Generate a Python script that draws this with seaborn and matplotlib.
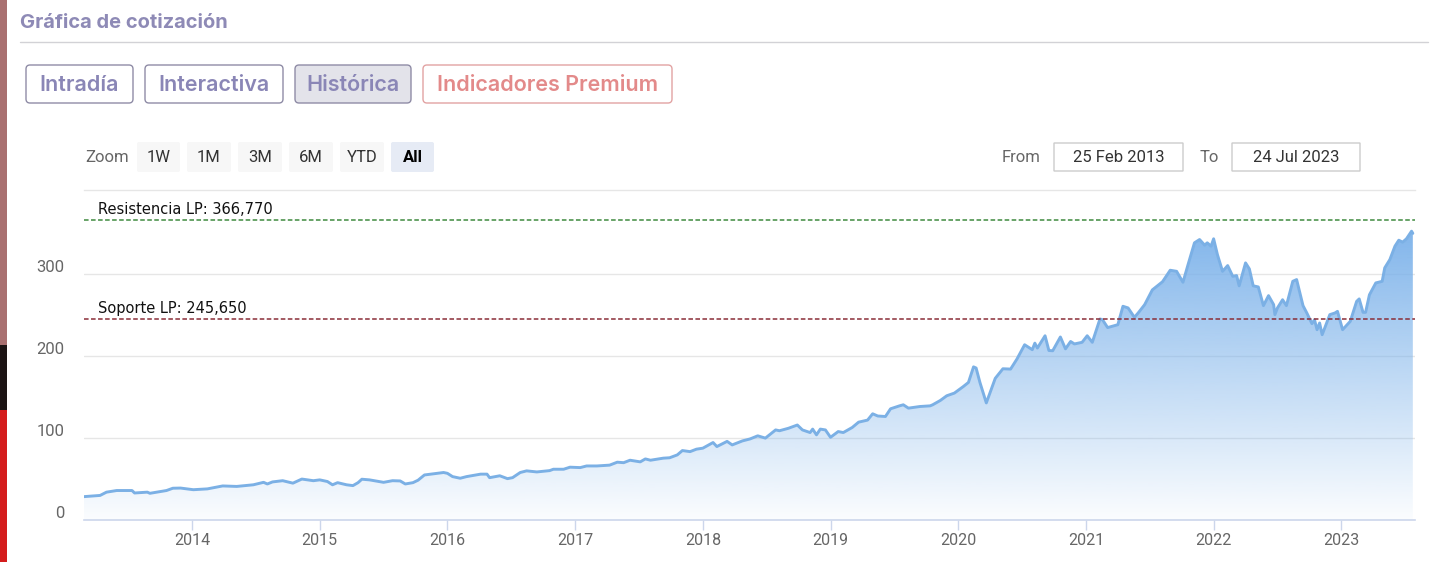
import numpy as np
import pandas as pd
import matplotlib
matplotlib.use("Agg")
import matplotlib.pyplot as plt
import seaborn as sns
from matplotlib.patches import FancyBboxPatch, Rectangle, PathPatch
from matplotlib.transforms import ScaledTranslation, blended_transform_factory

# ---------------- data ----------------
years = [2013.15, 2013.28, 2013.33, 2013.41, 2013.53, 2013.55, 2013.65, 2013.67, 2013.80, 2013.85,
         2013.91, 2014.01, 2014.12, 2014.24, 2014.35, 2014.48, 2014.56, 2014.59, 2014.63, 2014.71,
         2014.79, 2014.86, 2014.95, 2015.00, 2015.06, 2015.10, 2015.14, 2015.21, 2015.26, 2015.30,
         2015.33, 2015.39, 2015.50, 2015.57, 2015.63, 2015.67, 2015.73, 2015.77, 2015.82, 2015.97,
         2016.00, 2016.04, 2016.10, 2016.15, 2016.26, 2016.31, 2016.33, 2016.41, 2016.47, 2016.51,
         2016.57, 2016.62, 2016.70, 2016.80, 2016.83, 2016.91, 2016.96, 2017.04, 2017.09, 2017.17,
         2017.27, 2017.33, 2017.38, 2017.43, 2017.51, 2017.55, 2017.59, 2017.69, 2017.74, 2017.80,
         2017.84, 2017.90, 2017.95, 2018.00, 2018.08, 2018.11, 2018.19, 2018.23, 2018.31, 2018.37,
         2018.43, 2018.49, 2018.57, 2018.60, 2018.67, 2018.74, 2018.78, 2018.84, 2018.86, 2018.89,
         2018.92, 2018.96, 2019.00, 2019.06, 2019.10, 2019.17, 2019.22, 2019.29, 2019.33, 2019.37,
         2019.43, 2019.47, 2019.54, 2019.57, 2019.61, 2019.70, 2019.78, 2019.80, 2019.86, 2019.91,
         2019.97, 2020.04, 2020.08, 2020.12, 2020.14, 2020.17, 2020.22, 2020.29, 2020.35, 2020.41,
         2020.46, 2020.52, 2020.58, 2020.60, 2020.62, 2020.68, 2020.71, 2020.74, 2020.80, 2020.84,
         2020.88, 2020.91, 2020.97, 2021.01, 2021.05, 2021.11, 2021.13, 2021.17, 2021.25, 2021.29,
         2021.33, 2021.38, 2021.41, 2021.46, 2021.52, 2021.60, 2021.66, 2021.71, 2021.76, 2021.80,
         2021.85, 2021.89, 2021.93, 2021.95, 2021.98, 2022.00, 2022.03, 2022.07, 2022.11, 2022.15,
         2022.18, 2022.20, 2022.25, 2022.28, 2022.31, 2022.35, 2022.39, 2022.43, 2022.47, 2022.48,
         2022.50, 2022.54, 2022.57, 2022.62, 2022.65, 2022.70, 2022.73, 2022.77, 2022.79, 2022.81,
         2022.83, 2022.85, 2022.91, 2022.95, 2022.97, 2023.01, 2023.07, 2023.12, 2023.14, 2023.17,
         2023.19, 2023.22, 2023.27, 2023.32, 2023.34, 2023.38, 2023.42, 2023.45, 2023.48, 2023.51,
         2023.55, 2023.56]

prices = [28.5, 30, 34, 36, 36, 33, 34, 32.6, 36, 38.8,
          39, 37, 38, 41.6, 41, 43, 46, 44, 46.5, 48,
          45, 50, 48, 49, 47, 43, 45.6, 43, 42, 45.6,
          49.8, 49, 46, 48, 47.7, 44, 45.6, 48.6, 55, 58,
          57, 53, 51, 53, 56, 56, 51.7, 54, 50.5, 51.7,
          58, 60, 58.7, 60.3, 62, 62, 64.5, 64, 66, 66,
          67, 70.6, 70, 73, 71, 74.6, 73, 75.5, 76, 79.5,
          84.8, 83.5, 86.5, 87.7, 94.6, 89.7, 96, 91.7, 96.6, 99,
          102.8, 100, 110, 109, 112, 116, 110, 106.8, 111, 104,
          111, 110, 101, 108, 106.8, 113, 119.5, 122, 129.7, 127,
          126.4, 135.8, 139.4, 140.7, 136.6, 138.6, 139.4, 140.7, 146, 151.7,
          155, 163, 168, 187, 185.6, 168, 143, 173, 184.7, 184.3,
          196.6, 214, 208, 216, 210, 225, 207, 206.7, 223.5, 209,
          218, 215, 217, 225, 217, 245.5, 244.6, 235, 238.5, 261,
          259, 247.5, 253, 263, 281, 291, 305, 303.7, 290.3, 312,
          338.5, 342.5, 335.6, 338.5, 334.4, 343.4, 324, 303.7, 310.7, 297.6,
          298.5, 286, 314, 306.6, 286, 284.6, 261.8, 274, 263, 250.8,
          259, 269, 261.8, 291.5, 293.6, 261.8, 252.8, 239.8, 244.6, 232.4,
          240.6, 226.3, 250.8, 252.8, 254.8, 232.4, 242.6, 267, 270, 253.6,
          253.6, 275, 289.5, 291.5, 307.9, 318, 334.4, 341.7, 339.3, 343.4,
          352.7, 350]

assert len(years) == len(prices), (len(years), len(prices))

resistance_value = 366.77
support_value = 245.65
resistance_label = "Resistencia LP: 366,770"
support_label = "Soporte LP: 245,650"
y_ticks = [0, 100, 200, 300]
x_ticks = list(range(2014, 2024))
x_tick_labels = [str(y) for y in x_ticks]
title = "Gráfica de cotización"
tabs = ["Intradía", "Interactiva", "Histórica", "Indicadores Premium"]
range_buttons = ["1W", "1M", "3M", "6M", "YTD", "All"]
date_from = "25 Feb 2013"
date_to = "24 Jul 2023"
x_start, x_end = 2013.154, 2023.577
y_top = 403

# ---------------- style ----------------
sns.set_theme(style="white")
plt.rcParams['font.family'] = ['DejaVu Sans']
COND = ['Liberation Sans Narrow', 'Roboto', 'DejaVu Sans']
HEAD = ['Inter', 'DejaVu Sans']

W, H = 1439, 562
fig = plt.figure(figsize=(W / 100, H / 100), dpi=100)
fig.patch.set_facecolor('white')

# overlay in pixel coordinates for page decorations
ui = fig.add_axes([0, 0, 1, 1], zorder=0)
ui.set_xlim(0, W)
ui.set_ylim(H, 0)
ui.axis('off')

# left photo strip
ui.add_patch(Rectangle((0, 0), 7, 345, color='#a97070', lw=0))
ui.add_patch(Rectangle((0, 345), 7, 65, color='#1c1414', lw=0))
ui.add_patch(Rectangle((0, 410), 7, 152, color='#d41c1c', lw=0))

ui.text(20, 23, title, fontsize=14.5, fontweight='bold', color='#8e8ab6',
        va='center', ha='left', family=HEAD)
ui.plot([20, 1428], [42, 42], color='#d2d2d6', lw=1)

def box(x0, y0, x1, y1, fc, ec, r=4, lw=1.0):
    p = FancyBboxPatch((x0, y0), x1 - x0, y1 - y0,
                       boxstyle=f"round,pad=0,rounding_size={r}",
                       fc=fc, ec=ec, lw=lw)
    ui.add_patch(p)

tab_pos = [(26, 133), (145, 283), (295, 411), (423, 672)]
tab_fc = ['white', 'white', '#e3e3ea', 'white']
tab_ec = ['#8f8ca6', '#8f8ca6', '#8f8ca6', '#e2a3a3']
tab_tc = ['#8a86b6', '#8a86b6', '#8a86b6', '#e38a8a']
for lab, (a, b), fc, ec, tc in zip(tabs, tab_pos, tab_fc, tab_ec, tab_tc):
    box(a, 65, b, 103, fc, ec)
    ui.text((a + b) / 2, 85, lab, fontsize=15.5, fontweight='semibold', color=tc,
            ha='center', va='center', family=HEAD)

# zoom buttons
ui.text(85, 157, "Zoom", fontsize=12, color='#666666', ha='left', va='center', family=COND)
btn_pos = [(137, 180), (187, 231), (238, 282), (289, 333), (340, 384), (391, 434)]
for lab, (a, b) in zip(range_buttons, btn_pos):
    sel = lab == "All"
    box(a, 142, b, 172, '#e6ebf5' if sel else '#f7f7f7', 'none', r=2, lw=0)
    ui.text((a + b) / 2, 157, lab, fontsize=12, color='#000000' if sel else '#333333',
            fontweight='bold' if sel else 'normal', ha='center', va='center', family=COND)

ui.text(1002, 157, "From", fontsize=12, color='#666666', ha='left', va='center', family=COND)
box(1054, 143, 1183, 171, 'white', '#cccccc', r=0)
ui.text(1118.5, 157, date_from, fontsize=12, color='#333333', ha='center', va='center', family=COND)
ui.text(1200, 157, "To", fontsize=12, color='#666666', ha='left', va='center', family=COND)
box(1232, 143, 1360, 171, 'white', '#cccccc', r=0)
ui.text(1296, 157, date_to, fontsize=12, color='#333333', ha='center', va='center', family=COND)

# ---------------- main chart ----------------
ax = fig.add_axes([84 / W, (H - 520) / H, (1415 - 84) / W, (520 - 190) / H], zorder=1)
ax.set_facecolor('none')
df = pd.DataFrame({'year': years, 'price': prices})

for v in y_ticks[1:]:
    ax.axhline(v, color='#e6e6e6', lw=1, zorder=1)

# gradient area fill clipped to the series polygon
fill = ax.fill_between(df['year'], 0, df['price'], color='none', lw=0)
clip = PathPatch(fill.get_paths()[0], transform=ax.transData, fc='none', ec='none')
ax.add_patch(clip)
ymax = max(prices)
grad = np.zeros((256, 1, 4))
grad[:, 0, :3] = np.array([124, 178, 234]) / 255
grad[:, 0, 3] = np.linspace(0.03, 0.95, 256)
im = ax.imshow(grad, extent=[years[0], years[-1], 0, ymax], origin='lower',
               aspect='auto', zorder=2, interpolation='bilinear')
im.set_clip_path(clip)

sns.lineplot(data=df, x='year', y='price', ax=ax, color='#7bb0e5', lw=2.1, zorder=3)

# support / resistance lines
ax.axhline(resistance_value, color='#3f8a3f', lw=1.1, ls=(0, (3, 1.6)), zorder=4)
ax.axhline(support_value, color='#8a2e38', lw=1.1, ls=(0, (3, 1.6)), zorder=4)
tr = blended_transform_factory(ax.transAxes, ax.transData)
off = ScaledTranslation(0, 3 / 100, fig.dpi_scale_trans)
ax.text(14 / 1331, resistance_value, resistance_label, transform=tr + off, fontsize=10.5,
        color='#111111', va='bottom', ha='left', zorder=5)
ax.text(14 / 1331, support_value, support_label, transform=tr + off, fontsize=10.5,
        color='#111111', va='bottom', ha='left', zorder=5)

ax.set_xlim(x_start, x_end)
ax.set_ylim(0, y_top)
ax.set_xlabel("")
ax.set_ylabel("")

ax.set_xticks(x_ticks)
ax.set_xticklabels(x_tick_labels, family=COND)
ax.set_yticks(y_ticks)
ax.set_yticklabels([str(v) for v in y_ticks], family=COND)
ax.tick_params(axis='x', direction='out', length=7.5, width=1, color='#ccd6eb',
               labelcolor='#666666', labelsize=11.5, pad=2, bottom=True)
ax.tick_params(axis='y', length=0, labelcolor='#666666', labelsize=12, pad=14)
for lab in ax.get_yticklabels():
    lab.set_transform(lab.get_transform() + ScaledTranslation(0, 8 / 100, fig.dpi_scale_trans))

for s in ['left', 'right']:
    ax.spines[s].set_visible(False)
ax.spines['top'].set_color('#e6e6e6')
ax.spines['top'].set_linewidth(1)
ax.spines['bottom'].set_color('#ccd6eb')
ax.spines['bottom'].set_linewidth(1.2)
ax.grid(False)

fig.savefig("out.png", dpi=100, facecolor='white')
